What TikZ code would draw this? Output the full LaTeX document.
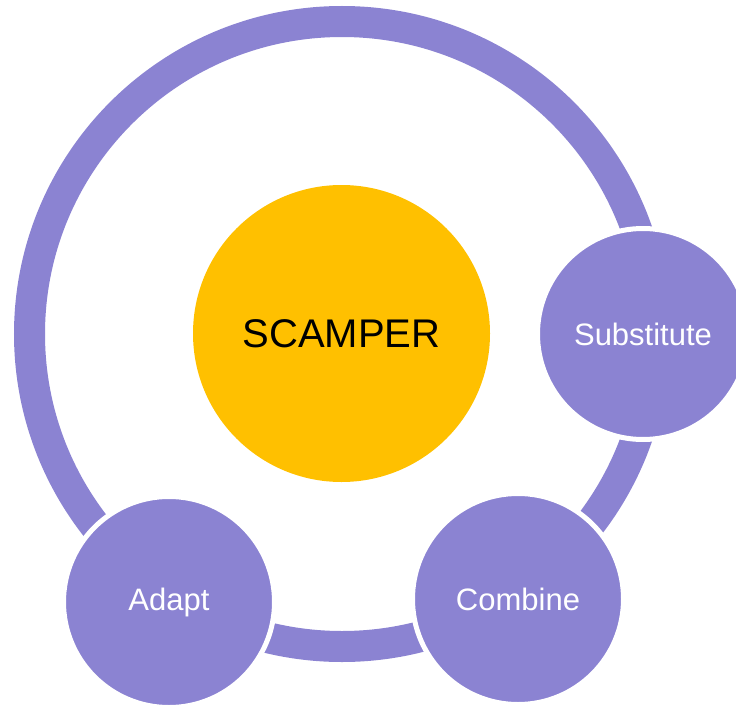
\documentclass[tikz,border=0pt]{standalone}
\usepackage{fontspec}
\setmainfont{Liberation Sans}

\definecolor{ringpurple}{RGB}{139,131,210}
\definecolor{hubyellow}{RGB}{255,192,0}

\tikzset{
  hub/.style={circle, fill=hubyellow, minimum size=297pt, inner sep=0pt,
    font=\fontsize{40}{40}\selectfont},
  idea/.style={circle, fill=ringpurple, draw=white, line width=5pt,
    minimum size=211pt, inner sep=0pt, text=white,
    font=\fontsize{31}{31}\selectfont},
}

\begin{document}
\begin{tikzpicture}[x=1pt,y=-1pt]
  \clip (0,0) rectangle (736,706);
  \draw[ringpurple, line width=31pt] (342,334) circle [radius=312.5pt];
  \node[hub] (scamper) at (341.5,333.5) {SCAMPER};
  \node[idea] (substitute) at (643,334) {Substitute};
  \node[idea] (combine) at (518,599) {Combine};
  \node[idea] (adapt) at (169,602) {Adapt};
\end{tikzpicture}
\end{document}
